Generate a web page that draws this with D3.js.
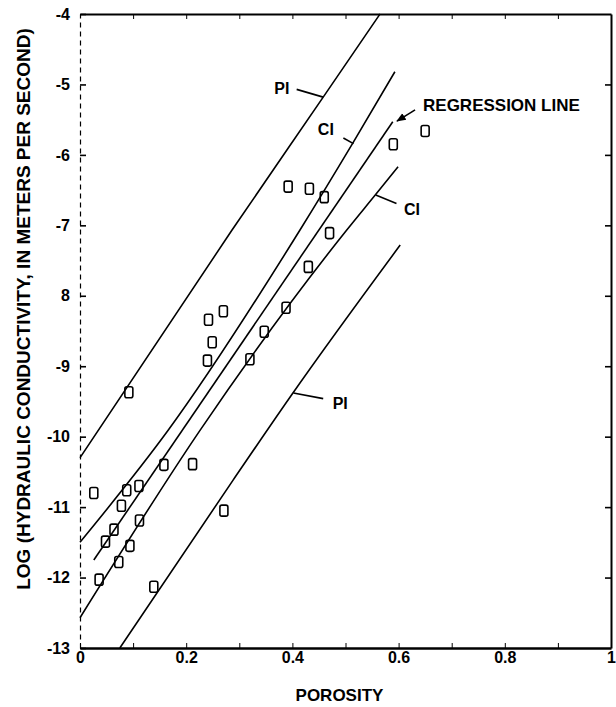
<!DOCTYPE html>
<html>
<head>
<meta charset="utf-8">
<script src="https://cdn.jsdelivr.net/npm/d3@7"></script>
<style>
  body { margin: 0; background: #fff; }
  text { font-family: "Liberation Sans", Arial, sans-serif; font-weight: bold; fill: #000; }
</style>
</head>
<body>
<svg id="chart"></svg>
<script>
const containerWidth  = 616;
const containerHeight = 707;
const margin = {top: 14, right: 5, bottom: 59, left: 80};
const chartWidth = containerWidth - margin.left - margin.right;
const chartHeight = containerHeight - margin.top - margin.bottom;

// measured samples (porosity, log K)
const porosity = [0.026,0.036,0.048,0.064,0.073,0.078,0.088,0.092,0.094,0.111,0.112,0.139,0.158,0.212,0.240,
                  0.242,0.249,0.270,0.271,0.320,0.347,0.388,0.392,0.430,0.432,0.460,0.470,0.590,0.650];
const logK     = [-10.80,-12.03,-11.49,-11.32,-11.78,-10.98,-10.76,-9.37,-11.55,-10.70,-11.19,-12.13,-10.40,-10.39,-8.92,
                  -8.34,-8.66,-8.22,-11.05,-8.90,-8.51,-8.17,-6.45,-7.59,-6.48,-6.60,-7.11,-5.85,-5.66];

// curves
const upperPI    = [[0,-10.30],[0.286,-7.07],[0.458,-5.18],[0.565,-4.0]];
const upperCI    = [[0,-11.50],[0.166,-9.91],[0.414,-7.07],[0.514,-5.83],[0.593,-4.82]];
const regression = [[0.026,-11.75],[0.589,-5.53]];
const lowerCI    = [[0,-12.57],[0.226,-9.91],[0.502,-7.07],[0.556,-6.57],[0.599,-6.17]];
const lowerPI    = [[0.075,-13.0],[0.288,-10.62],[0.401,-9.38],[0.603,-7.28]];

const xTicks = [0,0.1,0.2,0.3,0.4,0.5,0.6,0.7,0.8,0.9,1];
const xTickLabels = {0:"0",0.2:"0.2",0.4:"0.4",0.6:"0.6",0.8:"0.8",1:"1"};
const yTicks = [-4,-5,-6,-7,-8,-9,-10,-11,-12,-13];
const yTickLabels = ["-4","-5","-6","-7","8","-9","-10","-11","-12","-13"];

const svg = d3.select("#chart")
  .attr("width", containerWidth)
  .attr("height", containerHeight)
  .append("g")
  .attr("transform", `translate(${margin.left},${margin.top})`);

const xScale = d3.scaleLinear().domain([0, 1]).range([0, chartWidth]);
const yScale = d3.scaleLinear().domain([-13, -4]).range([chartHeight, 0]);

// axes
const bottomAxis = svg.append("g")
  .attr("transform", `translate(0,${chartHeight})`)
  .call(d3.axisBottom(xScale).tickValues(xTicks).tickSize(-5).tickSizeOuter(0).tickPadding(4)
        .tickFormat(d => xTickLabels[Math.round(d*10)/10] || ""));
bottomAxis.select(".domain").attr("stroke-width", 2.4);

const topAxis = svg.append("g")
  .call(d3.axisTop(xScale).tickValues(xTicks.slice(1, -1)).tickSize(-5).tickSizeOuter(0).tickFormat(""));
topAxis.select(".domain").attr("stroke-width", 2.2);

const leftAxis = svg.append("g")
  .call(d3.axisLeft(yScale).tickValues(yTicks).tickSize(-6).tickSizeOuter(0).tickPadding(10)
        .tickFormat((d, i) => yTickLabels[i]));
leftAxis.select(".domain").attr("stroke-width", 1.2).attr("stroke-dasharray", "5,4");
leftAxis.selectAll(".tick line").attr("stroke-width", 1.6);

const rightAxis = svg.append("g")
  .attr("transform", `translate(${chartWidth},0)`)
  .call(d3.axisRight(yScale).tickValues(yTicks.slice(1, -1)).tickSize(-6).tickSizeOuter(0).tickFormat(""));
rightAxis.select(".domain").attr("stroke-width", 2);
rightAxis.selectAll(".tick line").attr("stroke-width", 1.6);

svg.selectAll(".tick text").style("font-size", "16px").style("font-family", "Liberation Sans, Arial, sans-serif").style("font-weight", "bold");

// axis titles
svg.append("text")
  .attr("x", xScale(0.5) - 6)
  .attr("y", chartHeight + 53)
  .attr("text-anchor", "middle")
  .style("font-size", "17px")
  .text("POROSITY");

svg.append("text")
  .attr("transform", `translate(${-50},${yScale(-8.5) - 22}) rotate(-90)`)
  .attr("text-anchor", "middle")
  .style("font-size", "19px")
  .text("LOG (HYDRAULIC CONDUCTIVITY, IN METERS PER SECOND)");

// curves
const line = d3.line()
  .x(d => xScale(d[0]))
  .y(d => yScale(d[1]))
  .curve(d3.curveMonotoneX);

svg.selectAll(".band")
  .data([upperPI, upperCI, regression, lowerCI, lowerPI])
  .join("path")
  .attr("class", "band")
  .attr("d", line)
  .attr("fill", "none")
  .attr("stroke", "#000")
  .attr("stroke-width", 1.6);

// samples
const samples = porosity.map((p, i) => ({porosity: p, logK: logK[i]}));
svg.selectAll(".dot")
  .data(samples)
  .join("rect")
  .attr("class", "dot")
  .attr("x", d => xScale(d.porosity) - 4)
  .attr("y", d => yScale(d.logK) - 5.5)
  .attr("width", 8)
  .attr("height", 11)
  .attr("rx", 2)
  .attr("fill", "none")
  .attr("stroke", "#000")
  .attr("stroke-width", 1.6);

// labels with leaders
const notes = [
  {text: "PI", tx: 0.380, ty: -5.05, from: [0.408,-5.07], to: [0.458,-5.18], anchor: "middle"},
  {text: "CI", tx: 0.463, ty: -5.63, from: [0.496,-5.76], to: [0.515,-5.84], anchor: "middle"},
  {text: "REGRESSION LINE", tx: 0.646, ty: -5.29, from: [0.631,-5.36], to: [0.597,-5.52], anchor: "start", arrow: true},
  {text: "CI", tx: 0.625, ty: -6.77, from: [0.557,-6.57], to: [0.596,-6.69], anchor: "middle"},
  {text: "PI", tx: 0.490, ty: -9.52, from: [0.402,-9.38], to: [0.458,-9.46], anchor: "middle"}
];

svg.append("defs").append("marker")
  .attr("id", "arrow")
  .attr("viewBox", "0 0 10 10")
  .attr("refX", 9).attr("refY", 5)
  .attr("markerWidth", 6).attr("markerHeight", 6)
  .attr("orient", "auto")
  .append("path")
  .attr("d", "M0,1 L10,5 L0,9 Z")
  .attr("fill", "#000");

svg.selectAll(".leader")
  .data(notes)
  .join("line")
  .attr("class", "leader")
  .attr("x1", d => xScale(d.from[0])).attr("y1", d => yScale(d.from[1]))
  .attr("x2", d => xScale(d.to[0])).attr("y2", d => yScale(d.to[1]))
  .attr("stroke", "#000")
  .attr("stroke-width", 1.6)
  .attr("marker-end", d => d.arrow ? "url(#arrow)" : null);

svg.selectAll(".note")
  .data(notes)
  .join("text")
  .attr("class", "note")
  .attr("x", d => xScale(d.tx))
  .attr("y", d => yScale(d.ty))
  .attr("dy", "0.36em")
  .attr("text-anchor", d => d.anchor)
  .style("font-size", d => d.arrow ? "17px" : "16px")
  .text(d => d.text);
</script>
</body>
</html>
